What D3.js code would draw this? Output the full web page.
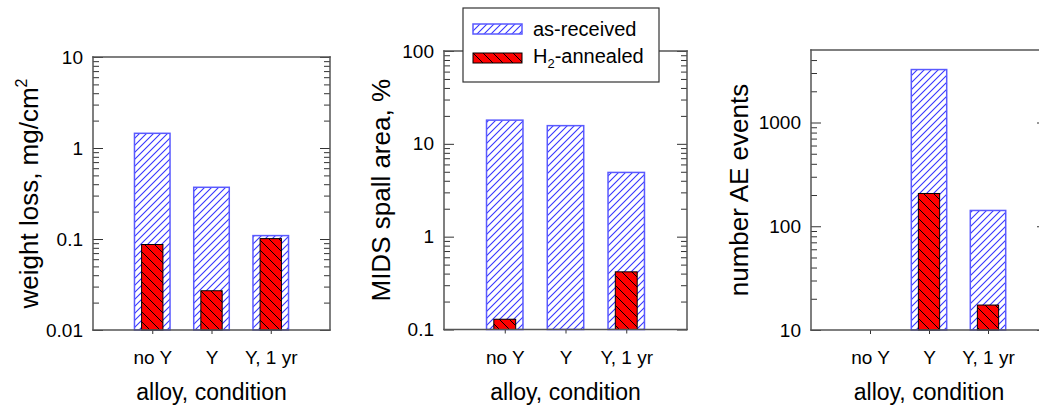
<!DOCTYPE html>
<html><head><meta charset="utf-8">
<script src="https://cdn.jsdelivr.net/npm/d3@7"></script>
<style>
body{margin:0;background:#fff}
svg{display:block}
text{font-family:"Liberation Sans",Arial,sans-serif;fill:#000}
</style>
</head><body>
<svg id="chart" width="1039" height="408"></svg>
<script>
// ---------------- data ----------------
const categories = ["no Y", "Y", "Y, 1 yr"];
const seriesNames = ["as-received", "H2-annealed"];

const weightLossAsReceived = [1.45, 0.37, 0.109];
const weightLossAnnealed   = [0.087, 0.027, 0.101];

const spallAsReceived = [18.0, 15.7, 4.92];
const spallAnnealed   = [0.129, null, 0.418];

const aeAsReceived = [null, 3240, 142];
const aeAnnealed   = [null, 207, 17.4];

const weightTicks = [0.01, 0.1, 1, 10];
const weightTickLabels = ["0.01", "0.1", "1", "10"];
const spallTicks = [0.1, 1, 10, 100];
const spallTickLabels = ["0.1", "1", "10", "100"];
const aeTicks = [10, 100, 1000];
const aeTickLabels = ["10", "100", "1000"];

const xTitle = "alloy, condition";

// ---------------- layout ----------------
const panels = [
  {left: 93, right: 330, top: 57, bottom: 330, domain: [0.01, 10],
   ticks: weightTicks, labels: weightTickLabels, a: weightLossAsReceived, b: weightLossAnnealed,
   ylab: "weight loss, mg/cm", sup: "2", ylabX: 38},
  {left: 444, right: 687, top: 51, bottom: 329.5, domain: [0.1, 100],
   ticks: spallTicks, labels: spallTickLabels, a: spallAsReceived, b: spallAnnealed,
   ylab: "MIDS spall area, %", ylabX: 389.5},
  {left: 811, right: 1047, top: 50, bottom: 330, domain: [10, 5000],
   ticks: aeTicks, labels: aeTickLabels, a: aeAsReceived, b: aeAnnealed,
   ylab: "number AE events", ylabX: 748}
];

const svg = d3.select("#chart");
const defs = svg.append("defs");

const hb = 7;
const pb = defs.append("pattern").attr("id", "hatchBlue").attr("patternUnits", "userSpaceOnUse")
  .attr("width", hb).attr("height", hb);
pb.append("rect").attr("width", hb).attr("height", hb).attr("fill", "#fff");
pb.append("path").attr("d", `M-1,1 l2,-2 M0,${hb} l${hb},-${hb} M${hb-1},${hb+1} l2,-2`)
  .attr("stroke", "#3535ff").attr("stroke-width", 1.1);

const hr = 10;
const pr = defs.append("pattern").attr("id", "hatchRed").attr("patternUnits", "userSpaceOnUse")
  .attr("width", hr).attr("height", hr);
pr.append("rect").attr("width", hr).attr("height", hr).attr("fill", "#ff0000");
pr.append("path").attr("d", `M-1,${hr-1} l2,2 M0,0 l${hr},${hr} M${hr-1},-1 l2,2`)
  .attr("stroke", "#000").attr("stroke-width", 1);

const axisColor = "#555";

panels.forEach(p => {
  const g = svg.append("g");
  const x = d3.scalePoint().domain(categories).range([p.left, p.right]).padding(1);
  const y = d3.scaleLog().domain(p.domain).range([p.bottom, p.top]);
  const step = x.step();
  const wA = step * 0.6, wB = step * 0.36;

  // bars
  g.selectAll("rect.a").data(categories.map((c, i) => ({c, v: p.a[i]})).filter(d => d.v != null))
    .join("rect").attr("class", "a")
    .attr("x", d => x(d.c) - wA / 2).attr("width", wA)
    .attr("y", d => y(d.v)).attr("height", d => p.bottom - y(d.v))
    .attr("fill", "url(#hatchBlue)").attr("stroke", "#5a5aff").attr("stroke-width", 1.5);
  g.selectAll("rect.b").data(categories.map((c, i) => ({c, v: p.b[i]})).filter(d => d.v != null))
    .join("rect").attr("class", "b")
    .attr("x", d => x(d.c) - wB / 2).attr("width", wB)
    .attr("y", d => y(d.v)).attr("height", d => p.bottom - y(d.v))
    .attr("fill", "url(#hatchRed)").attr("stroke", "#000").attr("stroke-width", 1);

  // minor ticks
  const minor = [];
  const lo = Math.floor(Math.log10(p.domain[0])), hi = Math.ceil(Math.log10(p.domain[1]));
  for (let e = lo; e < hi; e++) for (let k = 2; k <= 9; k++) {
    const v = k * Math.pow(10, e);
    if (v > p.domain[0] && v < p.domain[1]) minor.push(v);
  }
  [[d3.axisLeft, p.left], [d3.axisRight, p.right]].forEach(([ax, px]) => {
    const gm = g.append("g").attr("transform", `translate(${px},0)`)
      .call(ax(y).tickValues(minor).tickSize(-6).tickSizeOuter(0).tickFormat(""));
    gm.select(".domain").remove();
    gm.selectAll("line").attr("stroke", "#333");
  });
  const gl = g.append("g").attr("transform", `translate(${p.left},0)`)
    .call(d3.axisLeft(y).tickValues(p.ticks).tickSize(-10).tickSizeOuter(0).tickPadding(10)
      .tickFormat((d, i) => p.labels[i]));
  gl.select(".domain").remove();
  gl.selectAll("line").attr("stroke", "#333");
  gl.selectAll("text").attr("font-size", 19).attr("font-family", null).style("fill", "#000");
  const gr = g.append("g").attr("transform", `translate(${p.right},0)`)
    .call(d3.axisRight(y).tickValues(p.ticks).tickSize(-10).tickSizeOuter(0).tickFormat(""));
  gr.select(".domain").remove();
  gr.selectAll("line").attr("stroke", "#333");

  // x axis
  const gx = g.append("g").attr("transform", `translate(0,${p.bottom})`)
    .call(d3.axisBottom(x).tickSize(4).tickSizeOuter(0).tickPadding(17));
  gx.select(".domain").remove();
  gx.selectAll("line").attr("stroke", "#333");
  gx.selectAll("text").attr("font-size", 19).attr("font-family", null).style("fill", "#000");

  // frame
  const fr = [[p.left, p.top, p.left, p.bottom], [p.left, p.bottom, p.right, p.bottom],
              [p.right, p.top, p.right, p.bottom], [p.left, p.top, p.right, p.top]];
  g.selectAll("line.frame").data(fr).join("line").attr("class", "frame")
    .attr("x1", d => d[0]).attr("y1", d => d[1]).attr("x2", d => d[2]).attr("y2", d => d[3])
    .attr("stroke", axisColor).attr("stroke-width", 1.5).attr("stroke-linecap", "square");

  // titles
  g.append("text").attr("x", (p.left + p.right) / 2).attr("y", 400)
    .attr("text-anchor", "middle").attr("font-size", 23).text(xTitle);
  const cy = (p.top + p.bottom) / 2;
  const t = g.append("text").attr("transform", `translate(${p.ylabX},${cy}) rotate(-90)`)
    .attr("text-anchor", "middle").attr("font-size", 26).text(p.ylab);
  if (p.sup) t.append("tspan").attr("font-size", 16).attr("dy", -11).text(p.sup);
});

// legend
const lg = svg.append("g");
lg.append("rect").attr("x", 463).attr("y", 8).attr("width", 196).attr("height", 74)
  .attr("fill", "#fff").attr("stroke", "#333").attr("stroke-width", 1.2);
lg.append("rect").attr("x", 473).attr("y", 24).attr("width", 49).attr("height", 10)
  .attr("fill", "url(#hatchBlue)").attr("stroke", "#5a5aff").attr("stroke-width", 1.5);
lg.append("rect").attr("x", 473).attr("y", 53).attr("width", 49).attr("height", 10)
  .attr("fill", "url(#hatchRed)").attr("stroke", "#000").attr("stroke-width", 1);
lg.append("text").attr("x", 533).attr("y", 36).attr("font-size", 20).text(seriesNames[0]);
const t2 = lg.append("text").attr("x", 533).attr("y", 63).attr("font-size", 20);
t2.append("tspan").text(seriesNames[1].slice(0, 1));
t2.append("tspan").attr("font-size", 13).attr("dy", 5).text(seriesNames[1].slice(1, 2));
t2.append("tspan").attr("dy", -5).text(seriesNames[1].slice(2));
</script>
</body></html>
